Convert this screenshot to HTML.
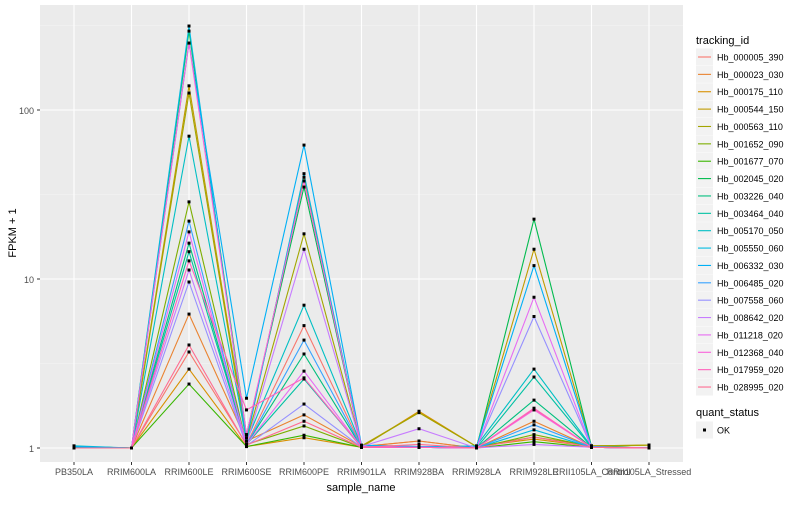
<!DOCTYPE html>
<html><head><meta charset="utf-8"><style>
body{margin:0;background:#fff;font-family:"Liberation Sans",sans-serif}
svg text{font-family:"Liberation Sans",sans-serif}
</style></head><body>
<svg id="chart" width="800" height="500" xmlns="http://www.w3.org/2000/svg">
<rect x="40" y="5" width="643" height="457" fill="#ebebeb"/>
<g id="grid"></g><g id="lines"></g><g id="pts"></g><g id="axes"></g><g id="legend"></g>
</svg>
<script>
const categories=["PB350LA","RRIM600LA","RRIM600LE","RRIM600SE","RRIM600PE","RRIM901LA","RRIM928BA","RRIM928LA","RRIM928LE","RRII105LA_Control","RRII105LA_Stressed"];
const seriesNames=["Hb_000005_390","Hb_000023_030","Hb_000175_110","Hb_000544_150","Hb_000563_110","Hb_001652_090","Hb_001677_070","Hb_002045_020","Hb_003226_040","Hb_003464_040","Hb_005170_050","Hb_005550_060","Hb_006332_030","Hb_006485_020","Hb_007558_060","Hb_008642_020","Hb_011218_020","Hb_012368_040","Hb_017959_020","Hb_028995_020"];
const colors=["#F8766D","#EA8331","#D89000","#C09B00","#A3A500","#7CAE00","#39B600","#00BB4E","#00BF7D","#00C1A3","#00BFC4","#00BAE0","#00B0F6","#35A2FF","#9590FF","#C77CFF","#E76BF3","#FA62DB","#FF62BC","#FF6C91"];
const s0=[1,1,3.7,1.05,5.3,1.02,1.1,1,1.7,1.01,1];
const s1=[1,1,6.2,1.1,1.57,1.02,1.1,1,1.44,1.01,1];
const s2=[1,1,2.93,1.02,1.15,1.01,1.65,1.02,1.13,1.02,1.04];
const s3=[1.02,1,139,1.15,40,1.03,1.62,1.02,15,1.03,1.04];
const s4=[1.02,1,126,1.1,18.5,1.02,1.62,1.02,1.16,1.03,1.04];
const s5=[1,1,28.6,1.05,1.35,1.01,1.02,1,1.2,1.02,1];
const s6=[1,1,2.39,1.02,1.19,1.01,1.01,1,1.09,1.01,1];
const s7=[1.01,1,293,1.2,35,1.02,1.02,1,22.6,1.02,1];
const s8=[1,1,16.3,1.05,3.6,1.01,1.01,1,1.92,1.01,1];
const s9=[1,1,14.5,1.05,2.56,1.01,1.01,1,2.63,1.01,1];
const s10=[1.03,1,70,1.1,7.0,1.03,1.01,1.03,2.93,1.02,1];
const s11=[1.02,1,314,1.1,42,1.02,1.01,1,1.28,1.01,1];
const s12=[1.02,1,249,1.97,62,1.04,1.02,1.02,12,1.02,1];
const s13=[1,1,22,1.04,4.35,1.01,1.01,1,1.37,1.01,1];
const s14=[1,1,9.6,1.03,1.82,1.01,1.01,1,6,1.01,1];
const s15=[1,1,11.3,1.05,15,1.02,1.3,1,1.05,1.01,1];
const s16=[1,1,19,1.05,2.85,1.01,1.01,1,7.8,1.01,1];
const s17=[1,1,249,1.2,38,1.02,1.01,1,1.68,1.01,1];
const s18=[1,1,12.8,1.68,2.6,1.01,1.01,1,1.72,1.01,1];
const s19=[1,1,4.07,1.04,1.44,1.01,1.05,1,1.16,1.01,1];
const seriesValues=[s0,s1,s2,s3,s4,s5,s6,s7,s8,s9,s10,s11,s12,s13,s14,s15,s16,s17,s18,s19];
const yTicks=[1,10,100];
const yTickLabels=["1","10","100"];

const NS="http://www.w3.org/2000/svg";
function el(tag,attrs,parent,text){const e=document.createElementNS(NS,tag);for(const k in attrs)e.setAttribute(k,attrs[k]);if(text!==undefined)e.textContent=text;parent.appendChild(e);return e;}
const xScale=i=>74+57.5*i;
const yScale=v=>448-169*Math.log10(v);
const grid=document.getElementById('grid'),lines=document.getElementById('lines'),pts=document.getElementById('pts'),axes=document.getElementById('axes'),legend=document.getElementById('legend');
[-0.5,0.5,1.5,2.5].forEach(m=>{const y=yScale(Math.pow(10,m));if(y<5||y>462)return;
const g=el('line',{x1:40,x2:683,y1:y,y2:y,stroke:'#f5f5f5','stroke-width':0.6},grid);

});
yTicks.forEach((t,i)=>{const y=yScale(t);
const g=el('line',{x1:40,x2:683,y1:y,y2:y,stroke:'#fff','stroke-width':1.1},grid);


el('line',{x1:37,x2:40,y1:y,y2:y,stroke:'#333'},axes);
const tl=el('text',{x:34,y:y+4,'text-anchor':'end','font-size':9,fill:'#4d4d4d'},axes,yTickLabels[i]);

});
categories.forEach((c,i)=>{const x=xScale(i);
const g=el('line',{x1:x,x2:x,y1:5,y2:462,stroke:'#fff','stroke-width':1.1},grid);


el('line',{x1:x,x2:x,y1:462,y2:465,stroke:'#333'},axes);
const tl=el('text',{x:x,y:475,'text-anchor':'middle','font-size':9,fill:'#4d4d4d'},axes,c);

});
seriesValues.forEach((vals,s)=>{
const p=el('polyline',{points:vals.map((v,i)=>xScale(i)+','+yScale(v)).join(' '),fill:'none',stroke:colors[s],'stroke-width':1.1},lines);


vals.forEach((v,i)=>{const r=el('rect',{x:xScale(i)-1.5,y:yScale(v)-1.5,width:3,height:3,fill:'#000'},pts);

});});
const xt=el('text',{x:361,y:491,'text-anchor':'middle','font-size':11,fill:'#000'},axes,'sample_name');


const yt=el('text',{x:0,y:0,transform:'translate(16,233) rotate(-90)','text-anchor':'middle','font-size':11,fill:'#000'},axes,'FPKM + 1');


const lt=el('text',{x:696,y:44,'font-size':11,fill:'#000'},legend,'tracking_id');


seriesNames.forEach((n,s)=>{const y=57+17.37*s;
const g=el('g',{},legend);


el('rect',{x:696,y:y-8.5,width:17,height:17,fill:'#f2f2f2'},g);
el('line',{x1:698,x2:711,y1:y,y2:y,stroke:colors[s],'stroke-width':1.1},g);
el('text',{x:717,y:y+3.5,'font-size':9,fill:'#000'},g,n);});
const qt=el('text',{x:696,y:416,'font-size':11,fill:'#000'},legend,'quant_status');


const og=el('g',{},legend);


el('rect',{x:696,y:421.5,width:17,height:17,fill:'#f2f2f2'},og);
el('rect',{x:703,y:428.5,width:3,height:3,fill:'#000'},og);
el('text',{x:717,y:433.5,'font-size':9,fill:'#000'},og,'OK');
</script>
</body></html>
